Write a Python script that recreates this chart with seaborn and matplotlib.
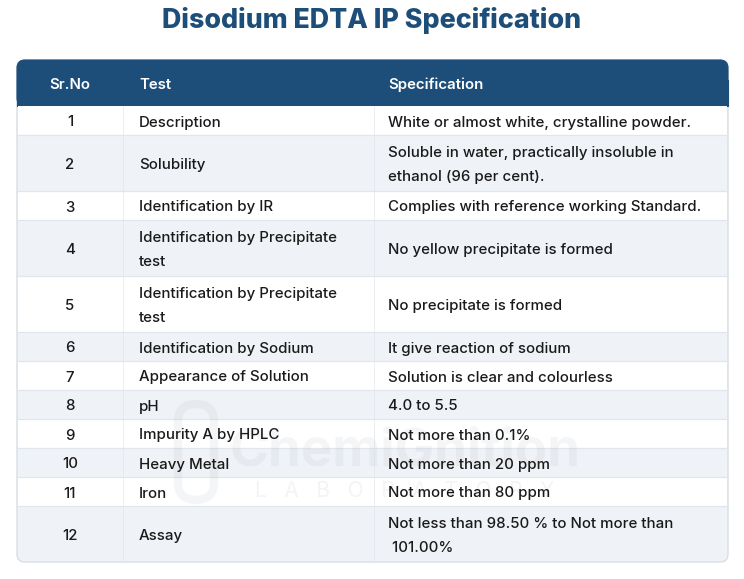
import matplotlib.pyplot as plt
import seaborn as sns
from matplotlib.patches import FancyBboxPatch, Rectangle

title = "Disodium EDTA IP Specification"
headers = ["Sr.No", "Test", "Specification"]
sr_no = ["1", "2", "3", "4", "5", "6", "7", "8", "9", "10", "11", "12"]
tests = [
    "Description",
    "Solubility",
    "Identification by IR",
    "Identification by Precipitate\ntest",
    "Identification by Precipitate\ntest",
    "Identification by Sodium",
    "Appearance of Solution",
    "pH",
    "Impurity A by HPLC",
    "Heavy Metal",
    "Iron",
    "Assay",
]
specs = [
    "White or almost white, crystalline powder.",
    "Soluble in water, practically insoluble in\nethanol (96 per cent).",
    "Complies with reference working Standard.",
    "No yellow precipitate is formed",
    "No precipitate is formed",
    "It give reaction of sodium",
    "Solution is clear and colourless",
    "4.0 to 5.5",
    "Not more than 0.1%",
    "Not more than 20 ppm",
    "Not more than 80 ppm",
    "Not less than 98.50 % to Not more than\n 101.00%",
]

sns.set_theme(style="white")
plt.rcParams['font.family'] = ['Inter', 'DejaVu Sans']

navy = "#1d4e79"
stripe = "#eff2f6"
line_col = "#e1e6ec"
text_col = "#1a1a1a"

fig = plt.figure(figsize=(7.44, 5.79), dpi=100)
ax = fig.add_axes([0, 0, 1, 1])
ax.set_xlim(0, 744)
ax.set_ylim(579, 0)
ax.axis('off')

left, right = 17, 728
top, head_h = 60, 46
col_lines = [123, 374]
x_sr, x_test, x_spec = 70, 139, 388
fs = 10.8
lsp = 1.9

# row heights from number of lines
heights = []
for t, s in zip(tests, specs):
    n = max(t.count("\n"), s.count("\n")) + 1
    heights.append(29 + 27 * (n - 1))
bottom = top + head_h + sum(heights)

# table background with rounded corners
ax.add_patch(FancyBboxPatch((left, top), right - left, bottom - top,
                            boxstyle="round,pad=0,rounding_size=8",
                            fc=stripe, ec="#d8dee5", lw=1.0, zorder=1))
ax.add_patch(FancyBboxPatch((left, top), right - left, head_h,
                            boxstyle="round,pad=0,rounding_size=8",
                            fc=navy, ec=navy, lw=0.8, zorder=2))
ax.add_patch(Rectangle((left, top + 20), right - left, head_h - 20,
                       fc=navy, ec=navy, lw=0.8, zorder=2))

y = top + head_h
for i, h in enumerate(heights):
    last = i == len(heights) - 1
    fc = "white" if i % 2 == 0 else stripe
    hh = h - 9 if last else h
    ax.add_patch(Rectangle((left + 0.6, y), right - left - 1.2, hh, fc=fc, ec="none", zorder=3))
    if not last:
        ax.plot([left, right], [y + h, y + h], color=line_col, lw=0.9, zorder=4)
    for cx in col_lines:
        ax.plot([cx, cx], [y, y + h], color=line_col, lw=0.5, zorder=4)
    yc = y + h / 2 + 2
    ax.text(x_sr, yc, sr_no[i], ha="center", va="center", fontsize=fs,
            fontweight="medium", color=text_col, linespacing=lsp, zorder=6)
    ax.text(x_test, yc, tests[i], ha="left", va="center", fontsize=fs,
            fontweight="medium", color=text_col, linespacing=lsp, zorder=6)
    ax.text(x_spec, yc, specs[i], ha="left", va="center", fontsize=fs,
            fontweight="medium", color=text_col, linespacing=lsp, zorder=6)
    y += h

# header labels
hy = top + head_h / 2 + 2
for x, lab, ha in zip([x_sr, x_test, x_spec], headers, ["center", "left", "left"]):
    ax.text(x, hy, lab, ha=ha, va="center", fontsize=fs, fontweight="semibold",
            color="white", zorder=6)

# faint watermark
ax.add_patch(FancyBboxPatch((178, 404), 36, 96, boxstyle="round,pad=0,rounding_size=18",
                            fc="none", ec="#9aa6b2", lw=6, alpha=0.1, zorder=5))
ax.text(405, 452, "ChemiGnition", ha="center", va="center", fontsize=38,
        fontweight="bold", color="#9aa6b2", alpha=0.1, zorder=5)
ax.text(405, 491, "L   A   B   O   R   A   T   O   R   Y", ha="center", va="center",
        fontsize=15, color="#9aa6b2", alpha=0.12, zorder=5)

ax.text(372, 21, title, ha="center", va="center", fontsize=19.3,
        fontweight="heavy", color=navy)

fig.savefig("out.png", dpi=100, facecolor="white")
